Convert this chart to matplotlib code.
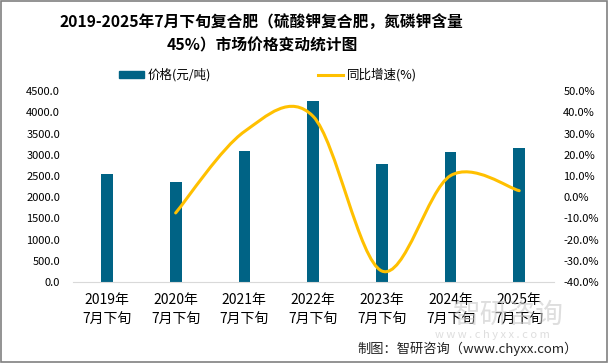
import matplotlib
matplotlib.use("Agg")
import matplotlib.pyplot as plt
from matplotlib.path import Path
from matplotlib.patches import PathPatch, Patch, Rectangle
from matplotlib.lines import Line2D
from matplotlib.ticker import FuncFormatter, MultipleLocator

plt.rcParams['font.family'] = ['Noto Sans CJK SC', 'DejaVu Sans']

# data
years = ['2019年\n7月下旬', '2020年\n7月下旬', '2021年\n7月下旬', '2022年\n7月下旬',
         '2023年\n7月下旬', '2024年\n7月下旬', '2025年\n7月下旬']
price = [2545, 2356, 3087, 4265, 2780, 3063, 3157]
growth_x = [1, 2, 3, 4, 5, 6]
growth = [-7.4, 31.0, 38.2, -34.8, 10.2, 3.1]

BAR_COLOR = '#006385'
LINE_COLOR = '#FFC000'


def smooth_path(xs, ys):
    # excel-like smoothed line: bezier segments with catmull-rom control points
    pts = list(zip(xs, ys))
    n = len(pts)
    verts = [pts[0]]
    codes = [Path.MOVETO]
    for i in range(n - 1):
        p0 = pts[i - 1] if i > 0 else pts[i]
        p1 = pts[i]
        p2 = pts[i + 1]
        p3 = pts[i + 2] if i + 2 < n else pts[i + 1]
        c1 = (p1[0] + (p2[0] - p0[0]) / 6, p1[1] + (p2[1] - p0[1]) / 6)
        c2 = (p2[0] - (p3[0] - p1[0]) / 6, p2[1] - (p3[1] - p1[1]) / 6)
        verts += [c1, c2, p2]
        codes += [Path.CURVE4] * 3
    return Path(verts, codes)


fig = plt.figure(figsize=(6.09, 3.63), dpi=100)

# watermark first so it sits under everything
fig.text(0.835, 0.132, '智研咨询', fontsize=20, color='#c8c8c8', alpha=0.6,
         ha='center', va='center', zorder=0)
fig.text(0.808, 0.077, 'w w w . c h y x x . c o m', fontsize=8, color='#c8c8c8',
         alpha=0.6, ha='center', va='center', zorder=0)

ax = fig.add_axes([0.1192, 0.2231, 0.7898, 0.5254])
ax.patch.set_alpha(0)

x = list(range(len(years)))
ax.bar(x, price, width=0.17, color=BAR_COLOR, zorder=2)
ax.set_xlim(-0.5, len(years) - 0.5)
ax.set_ylim(0, 4500)
ax.yaxis.set_major_locator(MultipleLocator(500))
ax.yaxis.set_major_formatter(FuncFormatter(lambda v, p: f'{v:.1f}'))
ax.set_xticks(x)
ax.set_xticklabels(years, fontsize=10, linespacing=1.55)

ax2 = ax.twinx()
ax2.set_ylim(-40, 50)
ax2.yaxis.set_major_locator(MultipleLocator(10))
ax2.yaxis.set_major_formatter(FuncFormatter(lambda v, p: f'{v:.1f}%'))
ax2.add_patch(PathPatch(smooth_path(growth_x, growth), fill=False,
                        edgecolor=LINE_COLOR, lw=2.2, capstyle='round', zorder=3))

for a in (ax, ax2):
    for s in a.spines.values():
        s.set_visible(False)
    a.tick_params(length=0, labelsize=8, colors='#000000')
ax.spines['bottom'].set_visible(True)
ax.spines['bottom'].set_color('#d9d9d9')
ax.tick_params(axis='y', pad=9)
ax.tick_params(axis='x', pad=8, labelsize=10)
ax2.tick_params(axis='y', pad=7)

fig.text(0.43, 0.905, '2019-2025年7月下旬复合肥（硫酸钾复合肥，氮磷钾含量\n45%）市场价格变动统计图',
         ha='center', va='center', fontsize=11.3, fontweight='bold', linespacing=1.5)

handles = [Patch(color=BAR_COLOR), Line2D([], [], color=LINE_COLOR, lw=2.2)]
fig.legend(handles, ['价格(元/吨)', '同比增速(%)'], loc='center', ncol=2,
           bbox_to_anchor=(0.44, 0.794), frameon=False, fontsize=9,
           handlelength=2.0, handleheight=0.5, handletextpad=0.3, columnspacing=8.6)

fig.text(0.948, 0.04, '制图：智研咨询（www.chyxx.com）', fontsize=9.5,
         ha='right', va='center', color='#222222')

fig.add_artist(Rectangle((0.001, 0.003), 0.995, 0.994, transform=fig.transFigure,
                         fill=False, edgecolor='#808080', lw=1.2))

fig.savefig('out.png', dpi=100)
